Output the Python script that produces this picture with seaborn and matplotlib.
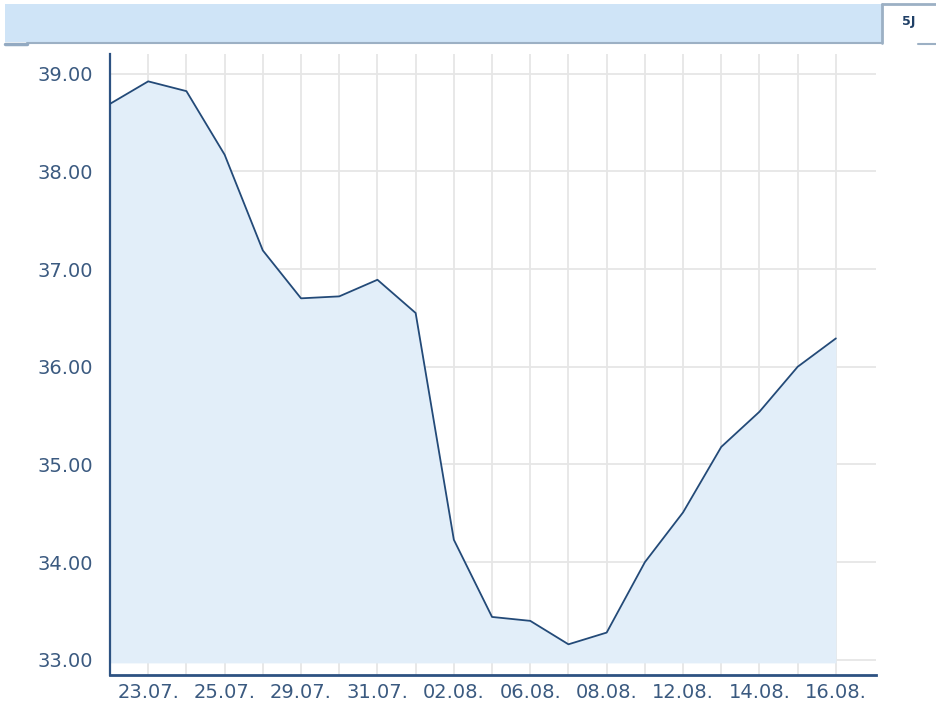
import matplotlib
matplotlib.use("Agg")
import matplotlib.pyplot as plt
from matplotlib.patches import Rectangle
from matplotlib.lines import Line2D
import seaborn as sns
import pandas as pd
import numpy as np

dates = ["22.07.", "23.07.", "24.07.", "25.07.", "26.07.", "29.07.", "30.07.",
         "31.07.", "01.08.", "02.08.", "05.08.", "06.08.", "07.08.", "08.08.",
         "09.08.", "12.08.", "13.08.", "14.08.", "15.08.", "16.08."]
values = [38.69, 38.92, 38.82, 38.17, 37.19, 36.70, 36.72, 36.89, 36.55, 34.23,
          33.44, 33.40, 33.16, 33.28, 34.00, 34.51, 35.18, 35.54, 36.00, 36.29]
y_ticks = [33, 34, 35, 36, 37, 38, 39]

sns.set_style("white")
plt.rcParams['font.family'] = ['DejaVu Sans']

W, H = 937, 707
fig = plt.figure(figsize=(W / 100, H / 100), dpi=100)

def fx(px):
    return px / W

def fy(py):
    return 1 - py / H

# header bar
fig.patches.append(Rectangle((fx(5), fy(42)), fx(882) - fx(5), fy(4) - fy(42),
                             transform=fig.transFigure, facecolor="#cfe4f7",
                             edgecolor="none", zorder=0))
fig.lines.append(Line2D([fx(882), fx(882)], [fy(4), fy(43)], transform=fig.transFigure,
                        color="#9cb0c4", lw=2))
fig.lines.append(Line2D([fx(27), fx(882)], [fy(42.5), fy(42.5)], transform=fig.transFigure,
                        color="#9cb0c4", lw=1.5))
fig.lines.append(Line2D([fx(5), fx(27)], [fy(43.5), fy(43.5)], transform=fig.transFigure,
                        color="#93aac2", lw=2.5))
fig.lines.append(Line2D([fx(882), fx(937)], [fy(4), fy(4)], transform=fig.transFigure,
                        color="#9cb0c4", lw=2))
fig.lines.append(Line2D([fx(918), fx(937)], [fy(44), fy(44)], transform=fig.transFigure,
                        color="#9cb0c4", lw=1.5))
fig.text(fx(909), fy(22), "5J", ha="center", va="center", fontsize=9,
         fontweight="bold", color="#1f3f66")

ax = fig.add_axes([fx(110), fy(675), fx(876) - fx(110), fy(54) - fy(675)])

df = pd.DataFrame({"idx": np.arange(len(dates)), "date": dates, "value": values})
ax.fill_between(df["idx"], df["value"], 32.97, color="#e2eef9", zorder=1, lw=0)
sns.lineplot(data=df, x="idx", y="value", ax=ax, color="#234a78", lw=1.3, zorder=3)

ax.set_xlim(0, 20.05)
ax.set_ylim(32.846, 39.2)

ax.set_xticks(df["idx"])
ax.set_xticklabels([d if i % 2 == 1 else "" for i, d in enumerate(dates)])
ax.set_yticks(y_ticks)
ax.set_yticklabels([f"{v:.2f}" for v in y_ticks])
ax.tick_params(axis="both", length=0, labelsize=14, labelcolor="#3b5a80")
ax.tick_params(axis="y", pad=12)
ax.tick_params(axis="x", pad=6)
ax.set_xlabel("")
ax.set_ylabel("")

for v in y_ticks:
    ax.axhline(v, color="#e6e6e6", lw=1.3, zorder=0.5)
for i in range(1, len(dates)):
    ax.axvline(i, color="#e6e6e6", lw=1.3, zorder=0.5)
ax.grid(False)

for s in ["top", "right"]:
    ax.spines[s].set_visible(False)
ax.spines["left"].set_color("#2d5282")
ax.spines["left"].set_linewidth(1.6)
ax.spines["bottom"].set_color("#2d5282")
ax.spines["bottom"].set_linewidth(2)

fig.savefig("out.png", dpi=100)
